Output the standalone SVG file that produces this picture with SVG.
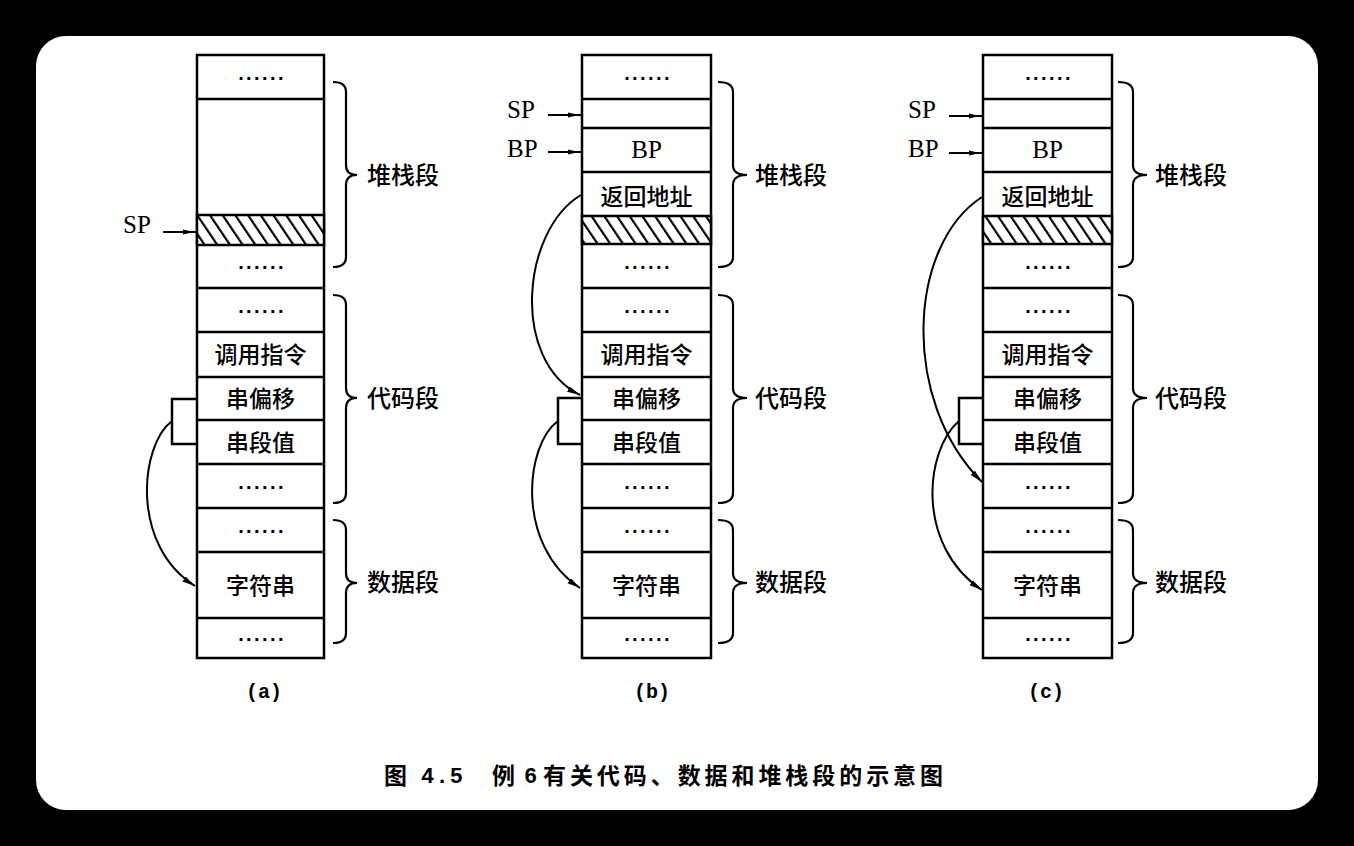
<svg xmlns="http://www.w3.org/2000/svg" width="1354" height="846" viewBox="0 0 1354 846">
<style>
.cell{fill:#fff;stroke:#000;stroke-width:2.5}
.ln{stroke:#000;stroke-width:2.5;fill:none}
.cjk{font-family:"Noto Sans CJK SC",sans-serif;font-size:23px;font-weight:500;fill:#000}
.seg{font-family:"Noto Sans CJK SC",sans-serif;font-size:24px;font-weight:500;fill:#000}
.dots{font-family:"Liberation Sans",sans-serif;font-size:20px;font-weight:700;letter-spacing:2.4px;fill:#000}
.reg{font-family:"Liberation Serif",serif;font-size:25px;fill:#000}
.cap{font-family:"Liberation Mono",monospace;font-size:20px;font-weight:700;fill:#000}
.ttl{font-family:"Noto Sans CJK SC",sans-serif;font-size:23px;font-weight:700;fill:#000}
.brace{fill:none;stroke:#000;stroke-width:2.2}
.conn{fill:none;stroke:#000;stroke-width:2}
.hatch{fill:url(#hatch);stroke:#000;stroke-width:2.5}
</style>
<defs>
<pattern id="hatch" patternUnits="userSpaceOnUse" width="12.7" height="10" patternTransform="skewX(34)">
<rect width="12.7" height="10" fill="#fff"/>
<rect x="0" width="2.6" height="10" fill="#000"/>
</pattern>
<marker id="ah" markerUnits="userSpaceOnUse" markerWidth="14" markerHeight="8" refX="13" refY="4" orient="auto">
<path d="M0,1 L13,4 L0,7 z" fill="#000"/>
</marker>
<marker id="ptr" markerUnits="userSpaceOnUse" markerWidth="12" markerHeight="7" refX="6" refY="3.5" orient="auto">
<path d="M0,1 L11,3.5 L0,6 z" fill="#000"/>
</marker>
</defs>

<!-- background panel -->
<rect width="1354" height="846" fill="#000"/>
<rect x="36" y="36" width="1282" height="774" rx="30" fill="#fff"/>

<!-- column (a) -->
<g id="stack-a">
<rect class="cell" x="197" y="55" width="127" height="603"/>
<rect class="hatch" x="197" y="215" width="127" height="30"/>
<path class="ln" d="M197,99H324M197,288H324M197,332H324M197,377H324M197,420H324M197,464H324M197,508H324M197,552H324M197,618H324"/>
<text class="dots" x="262" y="80" text-anchor="middle">......</text>
<text class="dots" x="262" y="269" text-anchor="middle">......</text>
<text class="dots" x="262" y="313" text-anchor="middle">......</text>
<text class="cjk" x="260.5" y="353" text-anchor="middle" dominant-baseline="central">调用指令</text>
<text class="cjk" x="260.5" y="397" text-anchor="middle" dominant-baseline="central">串偏移</text>
<text class="cjk" x="260.5" y="441" text-anchor="middle" dominant-baseline="central">串段值</text>
<text class="dots" x="262" y="489" text-anchor="middle">......</text>
<text class="dots" x="262" y="533" text-anchor="middle">......</text>
<text class="cjk" x="260.5" y="584" text-anchor="middle" dominant-baseline="central">字符串</text>
<text class="dots" x="262" y="641" text-anchor="middle">......</text>
<path class="ln" d="M197,399H172V444H197"/>
<text class="reg" x="123" y="233">SP</text>
<path class="brace" d="M333,82Q346,82 346,92V165Q346,175 357,175Q346,175 346,185V257Q346,267 333,267"/>
<path class="brace" d="M333,295Q346,295 346,305V388Q346,398 357,398Q346,398 346,408V493Q346,503 333,503"/>
<path class="brace" d="M333,520Q346,520 346,530V573Q346,583 357,583Q346,583 346,593V633Q346,643 333,643"/>
<text class="seg" x="367" y="173" dominant-baseline="central">堆栈段</text>
<text class="seg" x="367" y="396" dominant-baseline="central">代码段</text>
<text class="seg" x="367" y="580" dominant-baseline="central">数据段</text>
<text class="cap" x="264" y="698" text-anchor="middle">(a)</text>
</g>

<!-- column (b) -->
<g id="stack-b">
<rect class="cell" x="582" y="55" width="129" height="603"/>
<rect class="hatch" x="582" y="216" width="129" height="28"/>
<path class="ln" d="M582,99H711M582,128H711M582,172H711M582,288H711M582,332H711M582,377H711M582,420H711M582,464H711M582,508H711M582,552H711M582,618H711"/>
<text class="dots" x="648" y="80" text-anchor="middle">......</text>
<text class="reg" x="646.5" y="158" text-anchor="middle">BP</text>
<text class="cjk" x="646.5" y="195" text-anchor="middle" dominant-baseline="central">返回地址</text>
<text class="dots" x="648" y="269" text-anchor="middle">......</text>
<text class="dots" x="648" y="313" text-anchor="middle">......</text>
<text class="cjk" x="646.5" y="353" text-anchor="middle" dominant-baseline="central">调用指令</text>
<text class="cjk" x="646.5" y="397" text-anchor="middle" dominant-baseline="central">串偏移</text>
<text class="cjk" x="646.5" y="441" text-anchor="middle" dominant-baseline="central">串段值</text>
<text class="dots" x="648" y="489" text-anchor="middle">......</text>
<text class="dots" x="648" y="533" text-anchor="middle">......</text>
<text class="cjk" x="646.5" y="584" text-anchor="middle" dominant-baseline="central">字符串</text>
<text class="dots" x="648" y="641" text-anchor="middle">......</text>
<path class="ln" d="M582,398H558V444H582"/>
<text class="reg" x="507" y="118">SP</text>
<text class="reg" x="507" y="157">BP</text>
<path class="brace" d="M718,82Q733,82 733,92V165Q733,175 747,175Q733,175 733,185V257Q733,267 718,267"/>
<path class="brace" d="M718,295Q733,295 733,305V388Q733,398 747,398Q733,398 733,408V493Q733,503 718,503"/>
<path class="brace" d="M718,520Q733,520 733,530V573Q733,583 747,583Q733,583 733,593V633Q733,643 718,643"/>
<text class="seg" x="755" y="173" dominant-baseline="central">堆栈段</text>
<text class="seg" x="755" y="396" dominant-baseline="central">代码段</text>
<text class="seg" x="755" y="580" dominant-baseline="central">数据段</text>
<text class="cap" x="652" y="698" text-anchor="middle">(b)</text>
</g>

<!-- column (c) -->
<g id="stack-c">
<rect class="cell" x="983" y="55" width="129" height="603"/>
<rect class="hatch" x="983" y="216" width="129" height="28"/>
<path class="ln" d="M983,99H1112M983,128H1112M983,172H1112M983,288H1112M983,332H1112M983,377H1112M983,420H1112M983,464H1112M983,508H1112M983,552H1112M983,618H1112"/>
<text class="dots" x="1049" y="80" text-anchor="middle">......</text>
<text class="reg" x="1047.5" y="158" text-anchor="middle">BP</text>
<text class="cjk" x="1047.5" y="195" text-anchor="middle" dominant-baseline="central">返回地址</text>
<text class="dots" x="1049" y="269" text-anchor="middle">......</text>
<text class="dots" x="1049" y="313" text-anchor="middle">......</text>
<text class="cjk" x="1047.5" y="353" text-anchor="middle" dominant-baseline="central">调用指令</text>
<text class="cjk" x="1047.5" y="397" text-anchor="middle" dominant-baseline="central">串偏移</text>
<text class="cjk" x="1047.5" y="441" text-anchor="middle" dominant-baseline="central">串段值</text>
<text class="dots" x="1049" y="489" text-anchor="middle">......</text>
<text class="dots" x="1049" y="533" text-anchor="middle">......</text>
<text class="cjk" x="1047.5" y="584" text-anchor="middle" dominant-baseline="central">字符串</text>
<text class="dots" x="1049" y="641" text-anchor="middle">......</text>
<path class="ln" d="M983,398H959V444H983"/>
<text class="reg" x="908" y="118">SP</text>
<text class="reg" x="908" y="157">BP</text>
<path class="brace" d="M1118,82Q1133,82 1133,92V165Q1133,175 1147,175Q1133,175 1133,185V257Q1133,267 1118,267"/>
<path class="brace" d="M1118,295Q1133,295 1133,305V388Q1133,398 1147,398Q1133,398 1133,408V493Q1133,503 1118,503"/>
<path class="brace" d="M1118,520Q1133,520 1133,530V573Q1133,583 1147,583Q1133,583 1133,593V633Q1133,643 1118,643"/>
<text class="seg" x="1155" y="173" dominant-baseline="central">堆栈段</text>
<text class="seg" x="1155" y="396" dominant-baseline="central">代码段</text>
<text class="seg" x="1155" y="580" dominant-baseline="central">数据段</text>
<text class="cap" x="1046" y="698" text-anchor="middle">(c)</text>
</g>

<!-- pointers and links -->
<g id="connectors">
<polyline class="conn" points="163,232 189,232 197,232" marker-mid="url(#ptr)"/>
<polyline class="conn" points="548,115 574,115 582,115" marker-mid="url(#ptr)"/>
<polyline class="conn" points="548,152 574,152 582,152" marker-mid="url(#ptr)"/>
<polyline class="conn" points="949,116 975,116 983,116" marker-mid="url(#ptr)"/>
<polyline class="conn" points="949,153 975,153 983,153" marker-mid="url(#ptr)"/>
<path class="conn" d="M172,421C140,445 130,545 195,586" marker-end="url(#ah)"/>
<path class="conn" d="M581,195C522,230 510,360 580,395" marker-end="url(#ah)"/>
<path class="conn" d="M558,421C525,445 515,545 580,588" marker-end="url(#ah)"/>
<path class="conn" d="M982,197C908,245 900,400 982,482" marker-end="url(#ah)"/>
<path class="conn" d="M959,421C925,450 915,545 982,590" marker-end="url(#ah)"/>
</g>

<!-- figure title -->
<g id="title">
<text class="ttl" x="384" y="774" dominant-baseline="central">图</text>
<text class="cap" x="421" y="783" textLength="42" lengthAdjust="spacing" style="font-size:22px">4.5</text>
<text class="ttl" x="492" y="774" dominant-baseline="central">例</text>
<text class="cap" x="524" y="783" style="font-size:22px">6</text>
<text class="ttl" x="543" y="774" dominant-baseline="central" textLength="400" lengthAdjust="spacing">有关代码、数据和堆栈段的示意图</text>
</g>
</svg>
